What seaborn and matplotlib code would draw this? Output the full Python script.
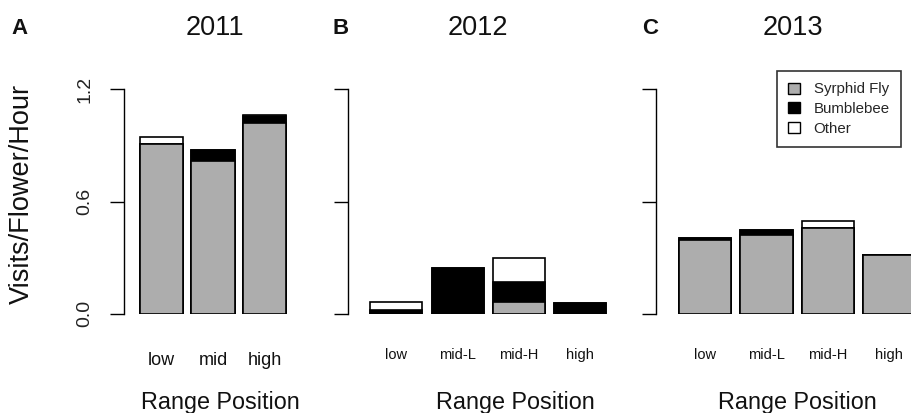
import matplotlib
matplotlib.use("Agg")
import matplotlib.pyplot as plt
import seaborn as sns
import pandas as pd
import numpy as np
from matplotlib.patches import Patch

sns.set_theme(style="white")
plt.rcParams['font.family'] = ['Liberation Sans', 'DejaVu Sans']

# ---- data (visits / flower / hour) ----
years = ["2011", "2012", "2013"]
panel_letters = ["A", "B", "C"]

cats_2011 = ["low", "mid", "high"]
syrphid_2011 = [0.91, 0.816, 1.02]
bumble_2011 = [0.0, 0.062, 0.038]
other_2011 = [0.035, 0.0, 0.007]

cats_2012 = ["low", "mid-L", "mid-H", "high"]
syrphid_2012 = [0.0, 0.0, 0.06, 0.0]
bumble_2012 = [0.02, 0.245, 0.111, 0.058]
other_2012 = [0.039, 0.0, 0.125, 0.0]

cats_2013 = ["low", "mid-L", "mid-H", "high"]
syrphid_2013 = [0.392, 0.421, 0.457, 0.315]
bumble_2013 = [0.012, 0.029, 0.0, 0.0]
other_2013 = [0.0, 0.0, 0.036, 0.0]

yticks = [0.0, 0.6, 1.2]
ytick_labels = ["0.0", "0.6", "1.2"]
groups = ["Syrphid Fly", "Bumblebee", "Other"]
colors = {"Syrphid Fly": "#adadad", "Bumblebee": "#000000", "Other": "#ffffff"}

panels = [
    (cats_2011, syrphid_2011, bumble_2011, other_2011),
    (cats_2012, syrphid_2012, bumble_2012, other_2012),
    (cats_2013, syrphid_2013, bumble_2013, other_2013),
]

W, H = 911, 413
fig = plt.figure(figsize=(W / 100, H / 100), dpi=100)

def fx(px):
    return px / W

def fy(py):
    return 1 - py / H

# layout (pixels)
y_top, y_bot = 89.5, 313.5
layout = [
    # spine_x, px per category, xlim
    (124.0, 51.5, (-0.728, 2.6)),
    (348.0, 61.3, (-0.79, 3.6)),
    (655.7, 61.5, (-0.80, 3.6)),
]
title_x = [215, 478, 793]
letter_x = [20, 341, 650]
xlabel_x = [220, 515, 797]
tick_fs = [13, 10.5, 10.5]
tick_pad = [27.5, 24.5, 24.5]

axes = []
for i, ((cats, syr, bum, oth), (sx, spc, xl)) in enumerate(zip(panels, layout)):
    width_px = (xl[1] - xl[0]) * spc
    ax = fig.add_axes([fx(sx), fy(y_bot), width_px / W, (y_bot - y_top) / H])
    df = pd.DataFrame({"cat": cats,
                       "syr": syr,
                       "syr_bum": np.add(syr, bum),
                       "total": np.add(np.add(syr, bum), oth)})
    # draw cumulative totals from top to bottom so that stacks appear
    for col, c in [("total", colors["Other"]), ("syr_bum", colors["Bumblebee"]), ("syr", colors["Syrphid Fly"])]:
        sns.barplot(data=df, x="cat", y=col, order=cats, ax=ax, color=c,
                    saturation=1, width=0.85, edgecolor="black", linewidth=1.2,
                    errorbar=None)
    # hide zero-height bars
    for p in ax.patches:
        if p.get_height() < 0.0005:
            p.set_visible(False)
    ax.set_xlim(*xl)
    ax.set_ylim(0, 1.2)
    ax.set_xlabel("")
    ax.set_ylabel("")
    for s in ["top", "right", "bottom"]:
        ax.spines[s].set_visible(False)
    ax.spines["left"].set_color("black")
    ax.spines["left"].set_linewidth(1.0)
    ax.spines["left"].set_bounds(0, 1.2)
    ax.set_yticks(yticks)
    if i == 0:
        ax.set_yticklabels(ytick_labels, rotation=90, va="center", fontsize=14)
    else:
        ax.set_yticklabels([])
    ax.tick_params(axis="y", left=True, direction="out", length=10, width=1.0,
                   color="black", pad=12, labelcolor="#222222")
    ax.tick_params(axis="x", bottom=False, length=0, pad=tick_pad[i],
                   labelsize=tick_fs[i], labelcolor="#111111")
    ax.set_facecolor("white")
    ax.grid(False)
    axes.append(ax)

    fig.text(fx(title_x[i]), fy(28), years[i], ha="center", va="center",
             fontsize=19.5, color="#111111")
    fig.text(fx(letter_x[i]), fy(29), panel_letters[i], ha="center", va="center",
             fontsize=16, fontweight="bold", color="#111111")
    fig.text(fx(xlabel_x[i]), fy(402), "Range Position", ha="center", va="center",
             fontsize=16.8, color="#111111")

fig.text(fx(22), fy(194), "Visits/Flower/Hour", rotation=90, ha="center",
         va="center", fontsize=19.5, color="#111111")

handles = [Patch(facecolor=colors[g], edgecolor="black", linewidth=1.0, label=g)
           for g in groups]
leg = axes[2].legend(handles=handles, loc="upper left",
                     bbox_to_anchor=(fx(777), fy(71)), bbox_transform=fig.transFigure,
                     fontsize=10.8, frameon=True, fancybox=False, borderpad=0.75,
                     handlelength=0.75, handleheight=0.75, handletextpad=0.95,
                     labelspacing=0.38, borderaxespad=0)
leg.get_frame().set_edgecolor("black")
leg.get_frame().set_linewidth(1.2)

fig.savefig("out.png", dpi=100)
